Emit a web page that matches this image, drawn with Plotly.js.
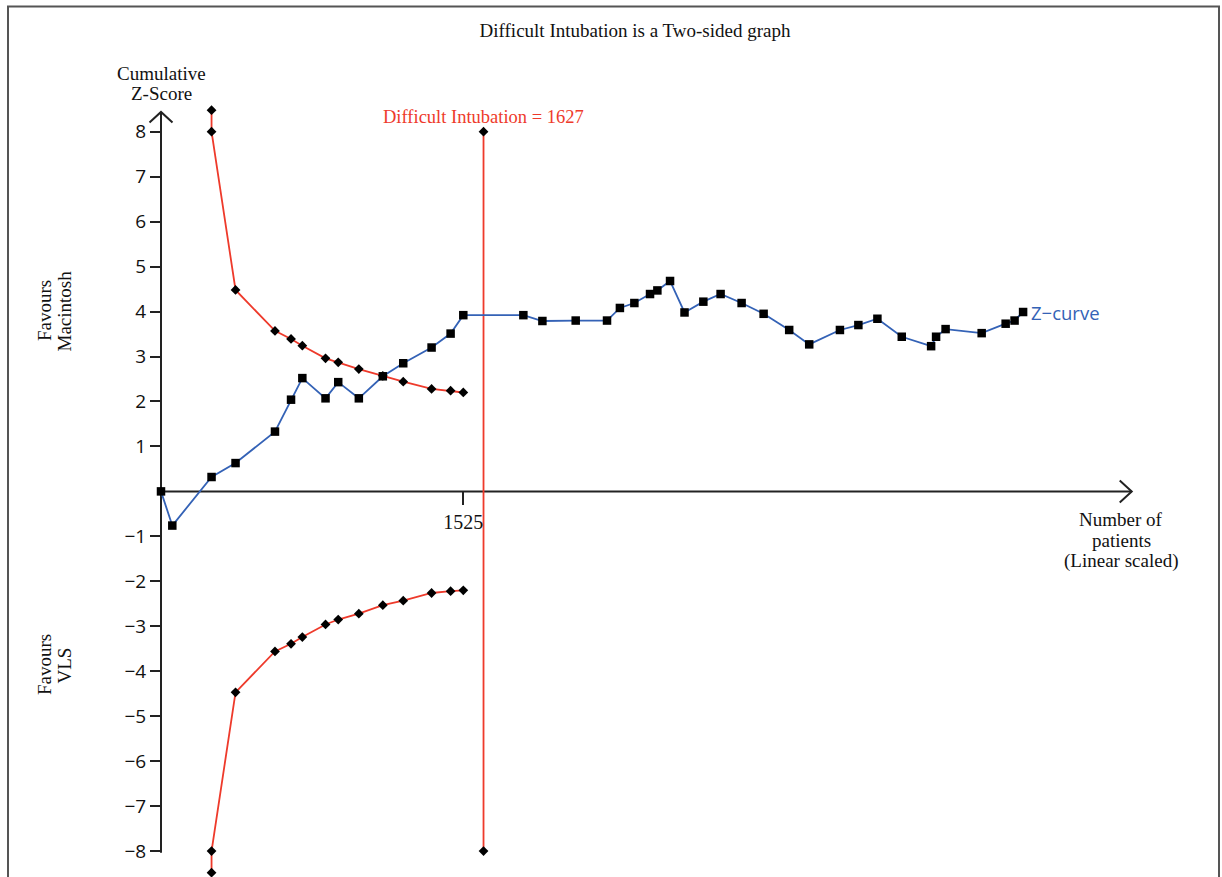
<!DOCTYPE html>
<html>
<head>
<meta charset="utf-8">
<script src="https://cdn.plot.ly/plotly-3.0.1.min.js"></script>
<style>html,body{margin:0;padding:0;background:#fff;}#chart{width:1222px;height:877px;}</style>
</head>
<body>
<div id="chart"></div>
<script>
// ---- Data ----
const zCurveX = [0, 57, 255, 376, 575, 656, 713, 830, 894, 998, 1119, 1222, 1365, 1461, 1525,
  1828, 1924, 2092, 2250, 2315, 2388, 2467, 2504, 2568, 2641, 2736, 2823, 2929, 3040,
  3169, 3270, 3425, 3518, 3614, 3737, 3885, 3910, 3958, 4140, 4261, 4306, 4349];
const zCurveY = [0, -0.76, 0.32, 0.63, 1.33, 2.04, 2.52, 2.07, 2.43, 2.07, 2.56, 2.85, 3.2, 3.51, 3.92,
  3.92, 3.79, 3.8, 3.8, 4.08, 4.19, 4.39, 4.47, 4.68, 3.98, 4.22, 4.39, 4.19, 3.95,
  3.59, 3.27, 3.59, 3.7, 3.84, 3.44, 3.23, 3.44, 3.61, 3.52, 3.73, 3.8, 3.99];

const boundaryX = [255, 255, 376, 575, 656, 713, 830, 894, 998, 1119, 1222, 1365, 1461, 1525];
const upperBoundary = [8.48, 8.0, 4.48, 3.57, 3.39, 3.24, 2.96, 2.87, 2.72, 2.57, 2.44, 2.28, 2.24, 2.2];
const lowerBoundary = [-8.48, -8.0, -4.47, -3.56, -3.39, -3.24, -2.96, -2.85, -2.72, -2.53, -2.43, -2.26, -2.22, -2.2];

const requiredSize = 1627;
const risX = [requiredSize, requiredSize];
const risY = [8, -8];

const yTickVals = [-8, -7, -6, -5, -4, -3, -2, -1, 1, 2, 3, 4, 5, 6, 7, 8];
const yTickText = ['\u22128', '\u22127', '\u22126', '\u22125', '\u22124', '\u22123', '\u22122', '\u22121',
  '1', '2', '3', '4', '5', '6', '7', '8'];
const xTickVals = [1525];
const xTickText = ['1525'];

const titleText = 'Difficult Intubation is a Two-sided graph';
const risLabel = 'Difficult Intubation = ' + requiredSize;
const zLabel = 'Z\u2212curve';
const yTitleLines = ['Cumulative', 'Z-Score'];
const xTitleLines = ['Number of', 'patients', '(Linear scaled)'];
const upperSideLines = ['Favours', 'Macintosh'];
const lowerSideLines = ['Favours', 'VLS'];

// axis extents (data units)
const xAxisEnd = 4897;
const yAxisTop = 8.44;
const yAxisBottom = -8.04;

// ---- Layout geometry ----
const W = 1222, H = 877;
const xRange = [-812.2, 5352.4];
const yRange = [-8.577, 10.93];
const yZeroFrac = (0 - yRange[0]) / (yRange[1] - yRange[0]);
const xZeroFrac = (0 - xRange[0]) / (xRange[1] - xRange[0]);

const RED = '#ee3a2b';
const BLUE = '#3462b6';
const serif = 'Liberation Serif, Times New Roman, serif';
const sans = 'Open Sans, DejaVu Sans, sans-serif';
const TXT = '#111';

const traces = [
  {x: boundaryX, y: upperBoundary, mode: 'lines+markers', cliponaxis: false,
   line: {color: RED, width: 1.8}, marker: {symbol: 'diamond', size: 7.5, color: '#000'}, hoverinfo: 'skip'},
  {x: boundaryX, y: lowerBoundary, mode: 'lines+markers', cliponaxis: false,
   line: {color: RED, width: 1.8}, marker: {symbol: 'diamond', size: 7.5, color: '#000'}, hoverinfo: 'skip'},
  {x: risX, y: risY, mode: 'lines+markers', cliponaxis: false,
   line: {color: RED, width: 1.8}, marker: {symbol: 'diamond', size: 7.5, color: '#000'}, hoverinfo: 'skip'},
  {x: zCurveX, y: zCurveY, mode: 'lines+markers', cliponaxis: false,
   line: {color: BLUE, width: 1.8}, marker: {symbol: 'square', size: 8.5, color: '#000'}, hoverinfo: 'skip'}
];

const axisColor = '#222';
const shapes = [
  {type: 'line', xref: 'x', yref: 'y', x0: 0, x1: 0, y0: yAxisBottom, y1: yAxisTop,
   line: {color: axisColor, width: 2}, layer: 'below'},
  {type: 'line', xref: 'x', yref: 'y', x0: 0, x1: xAxisEnd, y0: 0, y1: 0,
   line: {color: axisColor, width: 2}, layer: 'below'},
  {type: 'path', xref: 'x', yref: 'y', xsizemode: 'pixel', ysizemode: 'pixel',
   xanchor: 0, yanchor: yAxisTop, path: 'M -11.5 -10.5 L 0 0 L 11.5 -10.5',
   line: {color: axisColor, width: 2}},
  {type: 'path', xref: 'x', yref: 'y', xsizemode: 'pixel', ysizemode: 'pixel',
   xanchor: xAxisEnd, yanchor: 0, path: 'M -12 11 L 0 0 L -12 -11',
   line: {color: axisColor, width: 2}},
  {type: 'rect', xref: 'paper', yref: 'paper', x0: 8 / W, x1: 1219 / W, y0: -0.05, y1: 1 - 6.5 / H,
   line: {color: '#555', width: 2}}
];

function paperText(text, px, py, size, angle) {
  return {xref: 'paper', yref: 'paper', x: px / W, y: 1 - py / H, text: text,
    xanchor: 'center', yanchor: 'middle', textangle: angle || 0, showarrow: false,
    font: {family: serif, size: size, color: TXT}};
}

const annotations = [];
yTitleLines.forEach((t, i) => annotations.push(paperText(t, 161, 73 + 21 * i, 19)));
xTitleLines.forEach((t, i) => annotations.push(paperText(t, 1121, 519 + 21 * i, 19)));
upperSideLines.forEach((t, i) => annotations.push(paperText(t, 44 + 19.5 * i, 311, 19, -90)));
lowerSideLines.forEach((t, i) => annotations.push(paperText(t, 44 + 19.5 * i, 665, 19, -90)));
annotations.push(
  {xref: 'x', yref: 'y', x: requiredSize, y: 8, yshift: 3, text: risLabel, showarrow: false,
   font: {family: serif, size: 18.5, color: RED}, xanchor: 'center', yanchor: 'bottom'},
  {xref: 'x', yref: 'y', x: zCurveX[zCurveX.length - 1], y: zCurveY[zCurveY.length - 1], xshift: 6,
   text: zLabel, showarrow: false, font: {family: sans, size: 18.5, color: BLUE}, xanchor: 'left', yanchor: 'middle'}
);

const layout = {
  width: W, height: H,
  margin: {l: 0, r: 0, t: 0, b: 0, pad: 0},
  paper_bgcolor: '#fff', plot_bgcolor: '#fff',
  showlegend: false,
  title: {text: titleText, x: 635 / W, y: 1 - 30 / H, xanchor: 'center', yanchor: 'middle',
          xref: 'paper', yref: 'container', font: {family: serif, size: 19, color: TXT}},
  xaxis: {range: xRange, domain: [0, 1], anchor: 'free', position: yZeroFrac,
          showgrid: false, zeroline: false, showline: false,
          tickmode: 'array', tickvals: xTickVals, ticktext: xTickText,
          ticks: 'outside', ticklen: 13, tickwidth: 2, tickcolor: axisColor,
          tickfont: {family: serif, size: 20, color: TXT}, fixedrange: true},
  yaxis: {range: yRange, domain: [0, 1], anchor: 'free', position: xZeroFrac,
          showgrid: false, zeroline: false, showline: false,
          tickmode: 'array', tickvals: yTickVals, ticktext: yTickText,
          ticks: 'outside', ticklen: 11, tickwidth: 2, tickcolor: axisColor,
          tickfont: {family: sans, size: 19, color: TXT}, fixedrange: true},
  shapes: shapes,
  annotations: annotations
};

Plotly.newPlot('chart', traces, layout, {displayModeBar: false, staticPlot: true});
</script>
</body>
</html>
